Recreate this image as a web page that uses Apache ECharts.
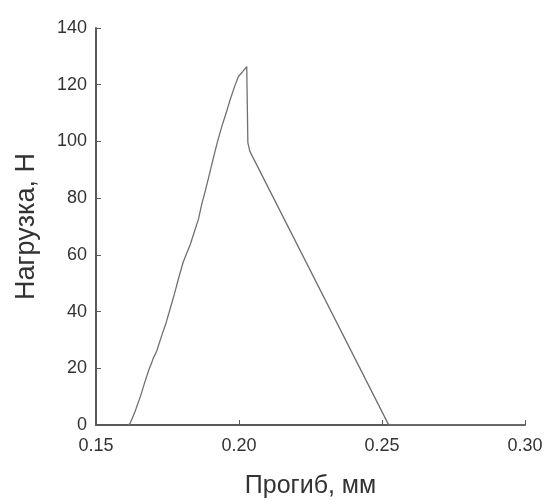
<!DOCTYPE html>
<html>
<head>
<meta charset="utf-8">
<script src="https://cdn.jsdelivr.net/npm/echarts@6/dist/echarts.min.js"></script>
<style>
    html, body { margin: 0; padding: 0; background: #fff; }
    #chart { width: 548px; height: 504px; }
</style>
</head>
<body>
<div id="chart"></div>
<script>
// прогиб, мм
var deflection = [
    0.1612, 0.1619, 0.1636, 0.1655, 0.1671, 0.1685, 0.1695, 0.1700, 0.1712, 0.1730,
    0.1745, 0.1759, 0.1775, 0.1788, 0.1805, 0.1815, 0.1829, 0.1845, 0.1858, 0.1870,
    0.1882, 0.1893, 0.1910, 0.1925, 0.1940, 0.1955, 0.1969, 0.1985, 0.1998, 0.2012,
    0.2027, 0.2031, 0.2038, 0.2522, 0.2530, 0.3000
];
// нагрузка, Н
var load = [
    0, 0.5, 4.6, 10, 15.2, 19.5, 22, 23.5, 26, 31.6,
    36, 40.9, 46.5, 51.5, 57.5, 60, 63.5, 68.5, 72.5, 78,
    82.5, 87, 94, 100, 105.3, 110, 114.7, 119.5, 122.9, 124.5,
    126.4, 99.5, 96.5, 0.3, 0, 0
];

var points = [];
for (var i = 0; i < deflection.length; i++) {
    points.push([deflection[i], load[i]]);
}

var axisColor = '#5a5a5a';
var textColor = '#333';
var font = 'Liberation Sans, Arial, sans-serif';

var myChart = echarts.init(document.getElementById('chart'));
var option = {
    animation: false,
    grid: {
        left: 96,
        right: 23,
        top: 28,
        bottom: 77
    },
    xAxis: {
        type: 'value',
        min: 0.15,
        max: 0.30,
        interval: 0.05,
        name: 'Прогиб, мм',
        nameLocation: 'middle',
        nameGap: 49,
        nameTextStyle: { fontSize: 25, color: textColor, fontFamily: font },
        axisLine: { lineStyle: { color: axisColor, width: 2 } },
        axisTick: { inside: true, length: 5, lineStyle: { color: axisColor } },
        axisLabel: {
            fontSize: 18,
            color: textColor,
            fontFamily: font,
            margin: 12,
            formatter: function (v) { return v.toFixed(2); }
        },
        splitLine: { show: false }
    },
    yAxis: {
        type: 'value',
        min: 0,
        max: 140,
        interval: 20,
        name: 'Нагрузка, Н',
        nameLocation: 'middle',
        nameGap: 56,
        nameTextStyle: { fontSize: 27, color: textColor, fontFamily: font },
        axisLine: { show: true, lineStyle: { color: axisColor, width: 2 } },
        axisTick: { show: true, inside: true, length: 5, lineStyle: { color: axisColor } },
        axisLabel: { fontSize: 18, color: textColor, fontFamily: font, margin: 9 },
        splitLine: { show: false }
    },
    series: [
        {
            type: 'line',
            data: points,
            showSymbol: false,
            lineStyle: { color: '#707070', width: 1.3 }
        }
    ]
};
myChart.setOption(option);
</script>
</body>
</html>
